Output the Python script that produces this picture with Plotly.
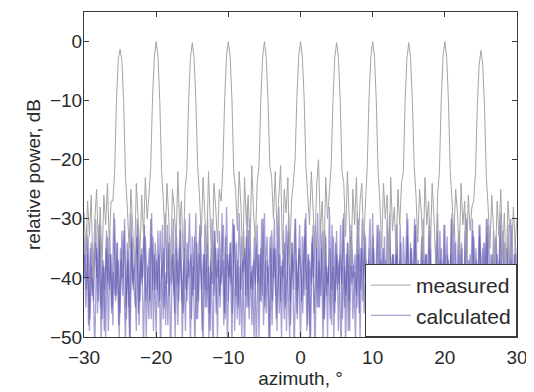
import numpy as np
import plotly.graph_objects as go

# azimuth sampling (degrees)
az_measured = np.arange(-30.0, 30.0 + 1e-9, 0.25)
az_calc_a = np.arange(-30.0, 30.0 + 1e-9, 0.25)
az_calc_b = np.arange(-29.875, 30.0, 0.25)
az_calc_c = np.arange(-29.9375, 30.0, 0.25)

# measured relative power, dB
measured = [
    -29, -36, -27, -33, -26, -40, -30, -25, -35, -28, -38, -26, -31, -24, -34, -27,
    -27, -22, -10, -3, -1.3, -3.2, -10.5, -23, -28,
    -35, -25, -31, -38, -24, -29, -36, -26, -33, -23, -30,
    -26, -21, -9.5, -2.5, 0, -2.5, -10, -22, -27,
    -34, -24, -30, -40, -25, -28, -35, -22, -31, -27, -37,
    -25, -22, -10, -2.7, -0.2, -2.8, -10, -21, -26,
    -33, -23, -29, -36, -22, -30, -39, -24, -28, -34, -25,
    -27, -21, -9.5, -2.5, 0, -2.5, -9.8, -22, -25,
    -32, -22, -28, -37, -23, -31, -26, -35, -21, -29, -34,
    -24, -21, -10, -2.6, 0, -2.6, -10, -21, -23,
    -30, -22, -33, -26, -21, -36, -25, -29, -23, -38, -27,
    -24, -20, -9.5, -2.5, 0, -2.5, -9.5, -21, -26,
    -31, -22, -28, -35, -24, -20, -32, -27, -37, -23, -30,
    -25, -21, -10, -2.7, -0.2, -2.7, -10, -22, -24,
    -33, -22, -29, -38, -25, -31, -23, -36, -27, -24, -34,
    -26, -21, -9.5, -2.5, 0, -2.5, -10, -22, -27,
    -35, -24, -30, -26, -39, -23, -32, -28, -36, -25, -31,
    -24, -22, -10, -2.8, -0.2, -2.8, -10, -21, -26,
    -34, -25, -29, -37, -23, -31, -27, -35, -24, -30, -38,
    -26, -22, -10, -2.5, 0, -2.5, -10, -22, -27,
    -33, -25, -29, -36, -24, -31, -27, -39, -26, -32, -28,
    -27, -22, -11, -4, -1.5, -4, -11, -23, -28,
    -35, -26, -31, -38, -27, -33, -25, -36, -29, -40, -27, -32, -37, -28, -34, -30,
]

# calculated relative power, dB (overlapping sweeps)
calculated_a = [
    -33, -45, -36, -49, -34, -41, -52, -35, -44, -31, -47, -38, -50, -33, -42, -36, -48, -30, -43, -37,
    -46, -32, -40, -51, -34, -45, -29, -41, -37, -49, -31, -44, -35, -52, -33, -39, -47, -30, -42, -36,
    -50, -32, -44, -38, -47, -29, -41, -34, -53, -36, -43, -31, -48, -35, -40, -46, -30, -44, -37, -51,
    -33, -42, -29, -47, -36, -40, -52, -31, -45, -38, -49, -30, -43, -35, -50, -32, -41, -37, -46, -28,
    -44, -34, -51, -31, -39, -47, -29, -42, -36, -53, -33, -45, -30, -48, -37, -41, -31, -50, -35, -43,
    -29, -46, -38, -52, -32, -40, -35, -49, -28, -44, -37, -47, -31, -42, -50, -34, -39, -30, -46, -36,
    -51, -33, -43, -29, -48, -37, -41, -31, -54, -35, -45, -30, -40, -47, -33, -50, -28, -42, -38, -46,
    -32, -49, -36, -41, -29, -52, -34, -44, -31, -47, -39, -43, -30, -50, -35, -40, -33, -48, -37, -45,
    -29, -51, -38, -42, -32, -47, -35, -53, -30, -44, -40, -36, -49, -31, -43, -37, -50, -33, -41, -29,
    -46, -34, -52, -38, -31, -45, -40, -49, -30, -43, -36, -51, -32, -47, -39, -42, -29, -48, -35, -44,
    -31, -50, -37, -41, -29, -46, -34, -53, -32, -43, -39, -48, -30, -45, -36, -51, -33, -40, -47, -31,
    -44, -35, -50, -30, -42, -38, -47, -32, -52, -36, -41, -29, -46, -34, -49, -31, -43, -37, -50, -33,
    -40,
]
calculated_b = [
    -40, -31, -48, -35, -43, -38, -30, -46, -33, -51, -37, -42, -32, -49, -36, -45, -29, -44, -34, -50,
    -37, -43, -30, -47, -35, -52, -33, -41, -45, -30, -48, -36, -40, -31, -50, -38, -44, -29, -49, -34,
    -42, -36, -53, -31, -45, -39, -48, -33, -41, -30, -50, -37, -44, -32, -51, -35, -42, -39, -29, -47,
    -38, -52, -34, -44, -31, -49, -36, -42, -30, -46, -35, -53, -32, -40, -37, -45, -29, -48, -33, -51,
    -36, -41, -30, -49, -34, -45, -38, -50, -32, -43, -28, -47, -39, -42, -33, -52, -36, -44, -30, -48,
    -38, -33, -51, -35, -44, -30, -47, -41, -36, -50, -32, -45, -39, -29, -48, -34, -53, -37, -42, -31,
    -44, -39, -30, -49, -36, -52, -33, -46, -40, -29, -45, -35, -51, -32, -43, -38, -47, -31, -50, -34,
    -42, -37, -53, -30, -45, -36, -49, -33, -41, -38, -51, -29, -46, -35, -44, -32, -50, -39, -30, -47,
    -35, -43, -31, -48, -37, -52, -33, -45, -40, -29, -49, -36, -42, -31, -51, -34, -46, -38, -44, -30,
    -50, -35, -43, -31, -47, -39, -52, -33, -41, -36, -49, -30, -45, -38, -53, -32, -42, -37, -48, -31,
    -44, -36, -51, -30, -46, -38, -42, -33, -50, -35, -47, -29, -43, -39, -52, -32, -45, -37, -41, -31,
    -48, -34, -44, -30, -51, -36, -42, -39, -33, -49, -31, -46, -38, -53, -35, -43, -30, -47, -36, -45,
]
calculated_c = [
    -36, -42, -33, -47, -38, -44, -34, -40, -31, -45, -37, -49, -35, -41, -32, -46, -39, -43, -34, -48,
    -35, -40, -32, -45, -37, -50, -34, -42, -38, -33, -46, -36, -41, -31, -44, -39, -35, -47, -33, -42,
    -37, -45, -32, -40, -35, -48, -31, -43, -38, -36, -46, -33, -41, -30, -44, -37, -49, -34, -40, -36,
    -43, -33, -47, -38, -31, -42, -36, -45, -34, -50, -37, -41, -32, -46, -35, -43, -38, -31, -47, -36,
    -40, -34, -46, -31, -43, -37, -48, -33, -39, -35, -45, -32, -42, -38, -50, -34, -41, -36, -44, -30,
    -45, -37, -41, -33, -48, -35, -43, -31, -46, -38, -40, -34, -49, -32, -44, -36, -42, -30, -47, -35,
    -39, -46, -33, -42, -36, -50, -34, -40, -31, -45, -37, -43, -32, -47, -38, -41, -35, -48, -33, -44,
    -36, -41, -31, -47, -38, -43, -34, -49, -32, -40, -36, -45, -33, -42, -30, -46, -37, -44, -35, -50,
    -33, -44, -38, -31, -46, -35, -42, -37, -48, -32, -41, -36, -45, -34, -49, -31, -43, -38, -40, -33,
    -47, -35, -42, -30, -45, -37, -40, -33, -48, -36, -43, -31, -46, -38, -41, -34, -50, -32, -44, -37,
    -41, -33, -47, -36, -43, -31, -45, -38, -40, -34, -49, -32, -44, -37, -42, -30, -46, -35, -48, -33,
    -38, -45, -34, -41, -31, -47, -36, -43, -33, -49, -37, -40, -32, -46, -35, -44, -39, -31, -48, -36,
]

x_ticks = [-30, -20, -10, 0, 10, 20, 30]
y_ticks = [-50, -40, -30, -20, -10, 0]

grey = "rgb(165,165,165)"
blue = "rgba(95,85,175,0.55)"
axis_col = "#3a3a3a"
font = dict(family="Liberation Sans, Arial, sans-serif", size=19, color="#2a2a2a")
legend_font = dict(family="Liberation Sans, Arial, sans-serif", size=21, color="#2a2a2a")

fig = go.Figure()
fig.add_trace(go.Scatter(x=az_calc_a, y=calculated_a, mode="lines", name="calculated",
                         line=dict(color=blue, width=1.3), legendrank=2))
fig.add_trace(go.Scatter(x=az_calc_b, y=calculated_b, mode="lines", name="calculated",
                         line=dict(color=blue, width=1.3), showlegend=False))
fig.add_trace(go.Scatter(x=az_calc_c, y=calculated_c, mode="lines", name="calculated",
                         line=dict(color=blue, width=1.3), showlegend=False))
fig.add_trace(go.Scatter(x=az_measured, y=measured, mode="lines", name="measured",
                         line=dict(color=grey, width=1), legendrank=1))

axis_common = dict(showline=True, linecolor=axis_col, linewidth=1, mirror="ticks",
                   ticks="inside", ticklen=5, tickcolor=axis_col, showgrid=False,
                   zeroline=False, tickfont=font, automargin=False)

fig.update_xaxes(range=[-30, 30], tickvals=x_ticks, ticktext=[str(v).replace("-", "\u2212") for v in x_ticks],
                 ticklabelstandoff=3,
                 title=dict(text="azimuth, \u00b0", font=font, standoff=2), **axis_common)
fig.update_yaxes(range=[-50, 5], tickvals=y_ticks, ticktext=[str(v).replace("-", "\u2212") for v in y_ticks],
                 ticklabelstandoff=-3,
                 title=dict(text="relative power, dB", font=font, standoff=4), **axis_common)

fig.update_layout(
    width=534, height=392,
    margin=dict(l=76, r=25, t=4, b=63),
    paper_bgcolor="white", plot_bgcolor="white",
    font=font,
    showlegend=True,
    legend=dict(x=1, xanchor="right", y=0, yanchor="bottom",
                bgcolor="white", bordercolor=axis_col, borderwidth=1,
                font=legend_font, itemwidth=40, tracegroupgap=0),
)

fig.write_html("out.html")
